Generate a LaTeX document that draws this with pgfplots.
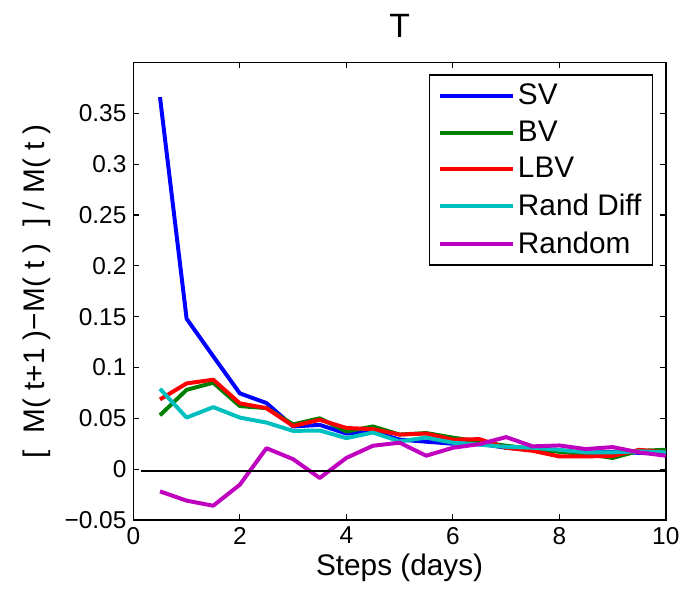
\documentclass[border=0pt]{standalone}
\usepackage{fontspec}
\setmainfont{Liberation Sans}
\usepackage{pgfplots}
\pgfplotsset{compat=1.18}

\definecolor{mlblue}{rgb}{0,0,1}
\definecolor{mlgreen}{rgb}{0,0.5,0}
\definecolor{mlred}{rgb}{1,0,0}
\definecolor{mlcyan}{rgb}{0,0.75,0.75}
\definecolor{mlmag}{rgb}{0.75,0,0.75}

\begin{document}
\begin{tikzpicture}
\begin{axis}[
  name=ax,
  scale only axis,
  width=268.3pt, height=230.5pt,
  xmin=0, xmax=10, ymin=-0.05, ymax=0.4,
  xtick={0,2,4,6,8,10},
  ytick={-0.05,0,0.05,0.1,0.15,0.2,0.25,0.3,0.35},
  yticklabels={−0.05,0,0.05,0.1,0.15,0.2,0.25,0.3,0.35},
  /pgf/number format/assume math mode=true,
  tick label style={font=\fontsize{12.3}{14}\selectfont},
  tick align=inside, tick pos=both, major tick length=3pt,
  axis line style={line width=0.7pt},
  every tick/.style={black, line width=0.6pt},
  title={T},
  title style={font=\fontsize{17}{20}\selectfont, yshift=3pt},
  xlabel={Steps (days)},
  ylabel={[\ \ M(\ t+1\ )−M(\ t\ )\ \ ]\ /\ M(\ t\ )},
  label style={font=\fontsize{15}{18}\selectfont},
  xlabel style={yshift=2pt},
  legend style={at={(0.976,0.974)}, anchor=north east, draw=black,
    line width=0.6pt, font=\fontsize{15}{18}\selectfont,
    inner xsep=4pt, inner ysep=3pt, row sep=3.6pt,
    nodes={inner sep=1.5pt}},
  legend cell align=left,
  legend image code/.code={\draw[#1] (0pt,0pt) -- (37pt,0pt);},
  every axis plot/.append style={line width=2pt, line join=round},
]
\addplot[mlblue] coordinates {
  (0.5,0.366) (1,0.148) (1.5,0.111) (2,0.0745) (2.5,0.065) (3,0.042)
  (3.5,0.0435) (4,0.035) (4.5,0.037) (5,0.029) (5.5,0.027) (6,0.025)
  (6.5,0.025) (7,0.021) (7.5,0.019) (8,0.018) (8.5,0.016) (9,0.017)
  (9.5,0.016) (10,0.015)};
\addlegendentry{SV}
\addplot[mlgreen] coordinates {
  (0.5,0.053) (1,0.078) (1.5,0.085) (2,0.062) (2.5,0.060) (3,0.044)
  (3.5,0.050) (4,0.037) (4.5,0.042) (5,0.034) (5.5,0.0355) (6,0.031)
  (6.5,0.027) (7,0.023) (7.5,0.020) (8,0.017) (8.5,0.015) (9,0.011)
  (9.5,0.018) (10,0.019)};
\addlegendentry{BV}
\addplot[mlred] coordinates {
  (0.5,0.0686) (1,0.0843) (1.5,0.088) (2,0.0647) (2.5,0.060) (3,0.0425)
  (3.5,0.0485) (4,0.0405) (4.5,0.0393) (5,0.034) (5.5,0.035) (6,0.029)
  (6.5,0.0295) (7,0.021) (7.5,0.018) (8,0.0125) (8.5,0.0125) (9,0.013)
  (9.5,0.019) (10,0.0165)};
\addlegendentry{LBV}
\addplot[mlcyan] coordinates {
  (0.5,0.079) (1,0.0507) (1.5,0.061) (2,0.0507) (2.5,0.0458) (3,0.0376)
  (3.5,0.038) (4,0.0305) (4.5,0.036) (5,0.0273) (5.5,0.031) (6,0.026)
  (6.5,0.024) (7,0.022) (7.5,0.021) (8,0.019) (8.5,0.0165) (9,0.0165)
  (9.5,0.0175) (10,0.0165)};
\addlegendentry{Rand Diff}
\addplot[mlmag] coordinates {
  (0.5,-0.0219) (1,-0.031) (1.5,-0.036) (2,-0.0153) (2.5,0.0206) (3,0.0098)
  (3.5,-0.0087) (4,0.011) (4.5,0.023) (5,0.026) (5.5,0.0132) (6,0.021)
  (6.5,0.0246) (7,0.0315) (7.5,0.0224) (8,0.0233) (8.5,0.0197) (9,0.0217)
  (9.5,0.0165) (10,0.0132)};
\addlegendentry{Random}
\addplot[black, line width=0.9pt, forget plot] coordinates {(0.15,-0.0015) (10,-0.0015)};
\end{axis}
\path (ax.south west) ++(-67.2pt,-36pt) rectangle ++(343pt,298pt);
\end{tikzpicture}
\end{document}
